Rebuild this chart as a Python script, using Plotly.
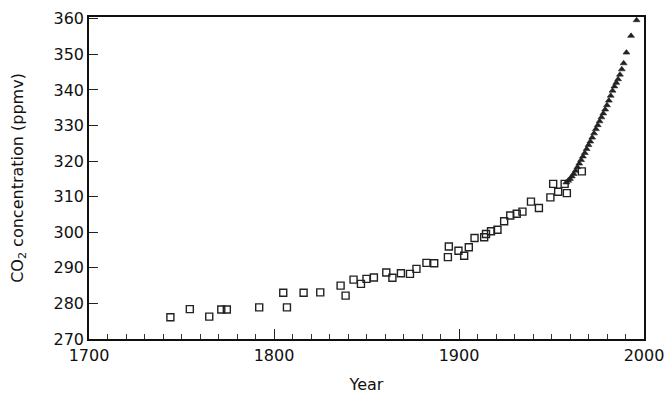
import plotly.graph_objects as go

# Ice-core data (open squares)
ice_years = [1744, 1754.5, 1765, 1771.5, 1774.5, 1792, 1805, 1807, 1816, 1825,
             1836, 1838.7, 1843, 1847, 1850, 1854, 1860.7, 1864, 1868.6, 1873.5,
             1877, 1882.4, 1886.6, 1894, 1894.5, 1899.7, 1902.8, 1905.3, 1908.4, 1913.6,
             1914.6, 1917.3, 1920.8, 1924.4, 1927.7, 1931.2, 1934.3, 1938.9, 1943.2, 1949.4,
             1950.9, 1953.6, 1957.1, 1958.3, 1966.4]
ice_ppm = [276.1, 278.4, 276.3, 278.3, 278.3, 278.9, 283.0, 278.9, 283.0, 283.1,
           285.0, 282.2, 286.7, 285.5, 286.9, 287.3, 288.7, 287.2, 288.5, 288.3,
           289.7, 291.4, 291.3, 293.0, 296.0, 294.8, 293.4, 295.8, 298.4, 298.6,
           299.5, 300.3, 300.7, 303.1, 304.7, 305.2, 305.8, 308.6, 306.8, 309.8,
           313.6, 311.4, 313.6, 311.0, 317.1]

# Atmospheric measurements (triangles)
atm_years = [1958, 1959, 1960, 1961, 1962, 1963, 1964, 1965, 1966, 1967,
             1968, 1969, 1970, 1971, 1972, 1973, 1974, 1975, 1976, 1977,
             1978, 1979, 1980, 1981, 1982, 1983, 1984, 1985, 1986, 1987,
             1988, 1989, 1990.5, 1993, 1996]
atm_ppm = [314.0, 314.5, 315.0, 315.7, 316.4, 317.3, 318.3, 319.3, 320.3, 321.3,
           322.3, 323.4, 324.5, 325.5, 326.6, 327.8, 329.0, 330.1, 331.2, 332.3,
           333.4, 334.5, 335.7, 337.0, 338.4, 339.8, 341.0, 342.0, 343.0, 344.3,
           345.8, 347.5, 350.5, 355.2, 359.6]

x_ticks = [1700, 1800, 1900, 2000]
y_ticks = [270, 280, 290, 300, 310, 320, 330, 340, 350, 360]

fig = go.Figure()
fig.add_trace(go.Scatter(
    x=ice_years, y=ice_ppm, mode="markers",
    marker=dict(symbol="square-open", size=7, color="#222",
                line=dict(width=1.4, color="#222")),
    showlegend=False, cliponaxis=False))
fig.add_trace(go.Scatter(
    x=atm_years, y=atm_ppm, mode="markers",
    marker=dict(symbol="triangle-up", size=6, color="#222",
                line=dict(width=0.6, color="#222")),
    showlegend=False, cliponaxis=False))

font_family = "DejaVu Sans, Liberation Sans, Arial, sans-serif"
fig.update_layout(
    width=668, height=396,
    margin=dict(l=89, r=24, t=17, b=57),
    paper_bgcolor="white", plot_bgcolor="white",
    font=dict(family=font_family, size=16, color="#111"),
    xaxis=dict(
        range=[1700, 2000], tickvals=x_ticks, ticktext=[str(v) for v in x_ticks],
        ticks="inside", ticklen=10, tickwidth=1.2, tickcolor="#222",
        minor=dict(dtick=10, tick0=1700, ticks="inside", ticklen=5,
                   tickwidth=1, tickcolor="#333"),
        showline=True, linecolor="#111", linewidth=1.6, mirror=True,
        showgrid=False, zeroline=False, automargin=False,
        ticklabelstandoff=1,
        title=dict(text="Year", font=dict(size=16), standoff=15),
        tickfont=dict(size=16),
    ),
    yaxis=dict(
        range=[270, 360.5], tickvals=y_ticks,
        ticks="inside", ticklen=9, tickwidth=1.2, tickcolor="#222",
        showline=True, linecolor="#111", linewidth=1.6, mirror=True,
        showgrid=False, zeroline=False, automargin=False,
        title=dict(text="CO<sub>2</sub> concentration (ppmv)", font=dict(size=16), standoff=26),
        tickfont=dict(size=16),
    ),
)

fig.write_html(
    "out.html",
    config={"displayModeBar": False},
    post_script="document.body.style.margin='0';document.body.style.overflow='hidden';",
)
